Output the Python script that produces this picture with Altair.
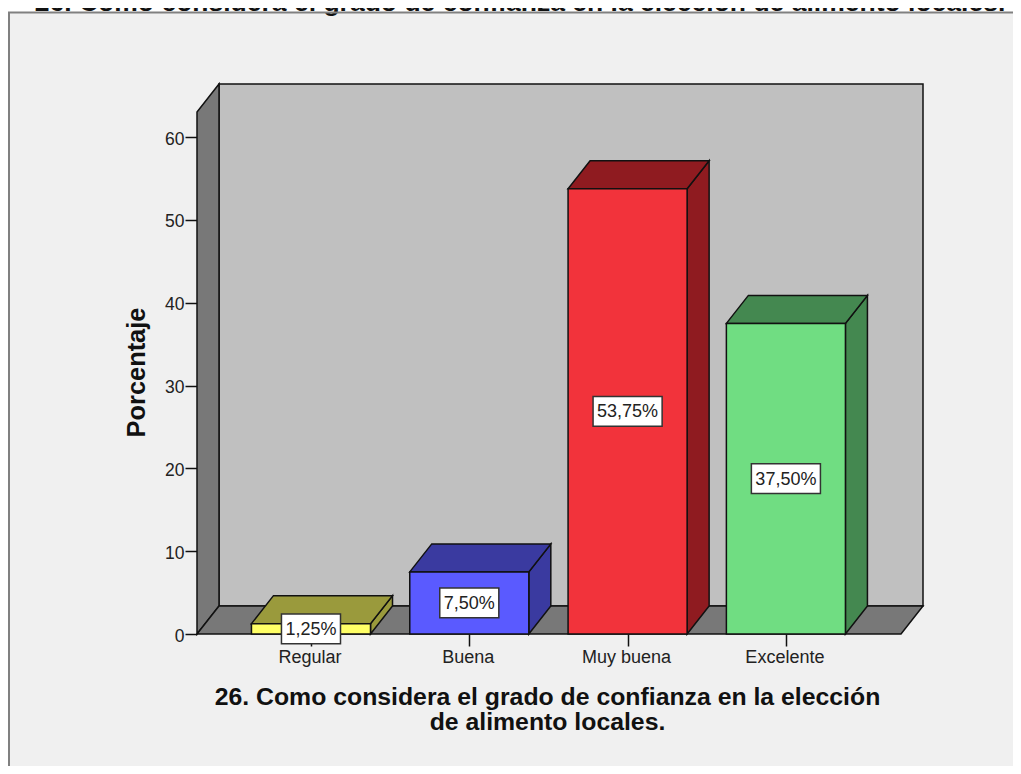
import altair as alt
import pandas as pd

# ---- chart values ----
CATEGORIES = ["Regular", "Buena", "Muy buena", "Excelente"]
PERCENTS = [1.25, 7.50, 53.75, 37.50]
LABELS = ["1,25%", "7,50%", "53,75%", "37,50%"]
FRONT = ["#ffff66", "#5a5aff", "#f2333b", "#70dd82"]
SHADE = ["#9a9a3c", "#3a3aa0", "#8f1b20", "#448850"]
Y_TICKS = [0, 10, 20, 30, 40, 50, 60]
X_TITLE = ["26. Como considera el grado de confianza en la elección", "de alimento locales."]
TOP_TITLE = "26. Como considera el grado de confianza en la elección de alimento locales."

# ---- scale set-up: x = category index, y = percent ----
X_LO, X_HI = -0.72, 3.866
Y_LO, Y_HI = 0, 66.4
DX, DY = 0.139, 3.38     # depth of the 3-D projection in data units
HALF = 0.376             # half bar width in category units
FONT = "Liberation Sans"
EDGE = "#111111"

xs = alt.Scale(domain=[X_LO, X_HI], nice=False, zero=False)
ys = alt.Scale(domain=[Y_LO, Y_HI], nice=False, zero=False)
label_expr = "[" + ",".join(f"'{c}'" for c in CATEGORIES) + "][datum.value]"

XAX = alt.Axis(
    values=[0, 1, 2, 3], labelExpr=label_expr, grid=False, domain=False,
    tickColor="#111111", tickSize=12, tickWidth=1.5, labelFont=FONT, labelFontSize=18,
    labelColor="#222222", labelPadding=2, labelOffset=-1.5, title=X_TITLE, titleFont=FONT,
    titleFontSize=24.8, titleFontWeight="bold", titleColor="#111111", titleX=350, titleY=70.5,
    titleAlign="center", titleAnchor="middle", titleBaseline="alphabetic", titleLineHeight=25)
YAX = alt.Axis(
    values=Y_TICKS, grid=False, domain=False, tickColor="#111111", tickSize=12, tickWidth=1.5,
    labelFont=FONT, labelFontSize=17.5, labelColor="#222222", labelPadding=1, labelOffset=2,
    title="Porcentaje", titleFont=FONT, titleFontSize=25.4, titleFontWeight="bold",
    titleColor="#111111", titleX=-61, titleY=288, titleAngle=270, titleAlign="center",
    titleAnchor="middle", titleBaseline="middle")

# ---- faces ----
bars = pd.DataFrame({"i": range(4), "v": PERCENTS, "lab": LABELS, "front": FRONT, "shade": SHADE})
bars["x0"] = bars.i - HALF
bars["x1"] = bars.i + HALF
bars["mid"] = bars.v / 2
bars["base"] = 0.0
bars["bh"] = bars.lab.str.len() * 0.0632 + 0.057
bars["bx0"] = bars.i - bars.bh / 2
bars["bx1"] = bars.i + bars.bh / 2
bars["by0"] = bars.mid - 1.8
bars["by1"] = bars.mid + 1.8

top_rows, side_rows = [], []
for r in bars.itertuples():
    top_rows += [
        (r.i, r.x0, r.v, r.v, r.shade),
        (r.i, r.x0 + DX, r.v, r.v + DY, r.shade),
        (r.i, r.x1, r.v, r.v + DY, r.shade),
        (r.i, r.x1 + DX, r.v + DY, r.v + DY, r.shade),
    ]
    side_rows += [
        (r.i, r.x1, 0, r.v, r.shade),
        (r.i, r.x1 + DX, DY, r.v + DY, r.shade),
    ]
cols = ["i", "x", "y", "y2", "c"]
tops = pd.DataFrame(top_rows, columns=cols)
sides = pd.DataFrame(side_rows, columns=cols)

wall_left = pd.DataFrame({"x": [X_LO, X_LO + DX], "y": [0, DY], "y2": [Y_HI - DY, Y_HI]})
floor = pd.DataFrame({
    "x": [X_LO, X_LO + DX, X_HI - DX, X_HI],
    "y": [0, 0, 0, DY],
    "y2": [0, DY, DY, DY],
})
wall_back = pd.DataFrame({"x": [X_LO + DX], "x2": [X_HI], "y": [DY], "y2": [Y_HI]})
ticks = pd.DataFrame({"i": range(4), "v": [0, 0, 0, 0]})

X = lambda f: alt.X(f, type="quantitative", scale=xs, axis=XAX)
Y = lambda f: alt.Y(f, type="quantitative", scale=ys, axis=YAX, stack=None)

# panel frame: white strip above the frame, clipped title, then top and left edges
strip = alt.Chart(ticks.head(1)).mark_rect(color="white").encode(
    x=alt.value(-189), x2=alt.value(816), y=alt.value(-76), y2=alt.value(-72))
top_title = alt.Chart(pd.DataFrame({"t": [TOP_TITLE]})).mark_text(
    font=FONT, fontSize=26.5, fontWeight="bold", color="#111111", baseline="alphabetic", align="center"
).encode(x=alt.value(323), y=alt.value(-73), text="t:N")
edge_top = alt.Chart(ticks.head(1)).mark_rule(color="#808080", strokeWidth=2).encode(
    x=alt.value(-189), x2=alt.value(816), y=alt.value(-71.5))
edge_left = alt.Chart(ticks.head(1)).mark_rule(color="#808080", strokeWidth=2).encode(
    x=alt.value(-188), y=alt.value(-72), y2=alt.value(682))

back = alt.Chart(wall_back).mark_rect(fill="#c0c0c0", stroke=EDGE, strokeWidth=1.5).encode(
    x=X("x"), x2="x2", y=Y("y"), y2="y2")
left = alt.Chart(wall_left).mark_area(fill="#787878", stroke=EDGE, strokeWidth=1.5).encode(
    x=X("x"), y=Y("y"), y2="y2")
flr = alt.Chart(floor).mark_area(fill="#787878", stroke=EDGE, strokeWidth=1.5).encode(
    x=X("x"), y=Y("y"), y2="y2")
side = alt.Chart(sides).mark_area(stroke=EDGE, strokeWidth=1.5).encode(
    x=X("x"), y=Y("y"), y2="y2", detail="i:N", color=alt.Color("c:N", scale=None))
top = alt.Chart(tops).mark_area(stroke=EDGE, strokeWidth=1.5).encode(
    x=X("x"), y=Y("y"), y2="y2", detail="i:N", color=alt.Color("c:N", scale=None))
front = alt.Chart(bars).mark_rect(stroke=EDGE, strokeWidth=1.5).encode(
    x=X("x0"), x2="x1", y=Y("base"), y2="v", color=alt.Color("front:N", scale=None))
box = alt.Chart(bars).mark_rect(fill="white", stroke="#333333", strokeWidth=1.5).encode(
    x=X("bx0"), x2="bx1", y=Y("by0"), y2="by1")
text = alt.Chart(bars).mark_text(font=FONT, fontSize=18, color="#222222", baseline="middle", dy=1).encode(
    x=X("i"), y=Y("mid"), text="lab:N")

chart = alt.layer(strip, top_title, edge_top, edge_left, back, left, flr, side, top, front, box, text).properties(
    width=726, height=550, background="#f0f0f0",
    autosize=alt.AutoSizeParams(type="none"),
    padding={"left": 189, "top": 76, "right": 90, "bottom": 132},
).configure_view(stroke=None)

chart.save("out.html", embed_options={"renderer": "svg", "actions": False})
